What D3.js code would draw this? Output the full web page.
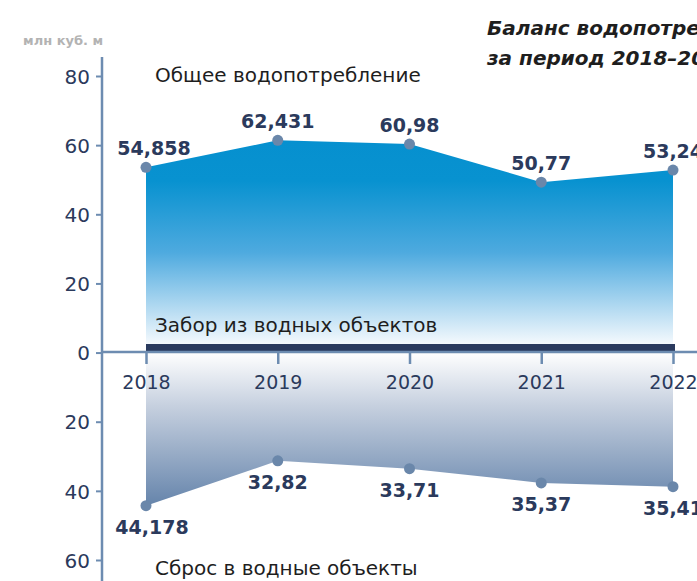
<!DOCTYPE html>
<html>
<head>
<meta charset="utf-8">
<script src="https://cdn.jsdelivr.net/npm/d3@7"></script>
<style>
  html, body { margin: 0; padding: 0; background: #fff; overflow: hidden; }
  text { font-family: "DejaVu Sans", sans-serif; }
</style>
</head>
<body>
<div id="chart"></div>
<script>
// данные
const years = ['2018', '2019', '2020', '2021', '2022'];
// общее водопотребление (положение точек на графике и подписи)
const useValues = [53.6, 61.4, 60.3, 49.3, 52.8];
const useLabels = ['54,858', '62,431', '60,98', '50,77', '53,24'];
// сброс в водные объекты
const dropValues = [44.3, 31.3, 33.6, 37.7, 38.8];
const dropLabels = ['44,178', '32,82', '33,71', '35,37', '35,41'];
const yTicks = [80, 60, 40, 20, 0, -20, -40, -60];

const width = 697, height = 581;
const axisX = 102, zeroY = 352;
const navy = '#2b3a5c', steel = '#6d8cb1', dot = '#6a87aa';

const svg = d3.select('#chart').append('svg')
	.attr('width', width)
	.attr('height', height);

const x = d3.scalePoint().domain(years).range([146, 673]);
const y = d3.scaleLinear().domain([-60, 80]).range([560, 76]);

// градиенты
const defs = svg.append('defs');
const gUp = defs.append('linearGradient')
	.attr('id', 'grad-up')
	.attr('gradientUnits', 'userSpaceOnUse')
	.attr('x1', 0).attr('x2', 0)
	.attr('y1', y(d3.max(useValues))).attr('y2', zeroY - 8);
[[0, '#0690cf'], [0.2, '#0892d0'], [0.55, '#4eaadf'], [1, '#f4f9fd']].forEach(s => {
	gUp.append('stop').attr('offset', s[0]).attr('stop-color', s[1]);
});
const gDown = defs.append('linearGradient')
	.attr('id', 'grad-down')
	.attr('gradientUnits', 'userSpaceOnUse')
	.attr('x1', 0).attr('x2', 0)
	.attr('y1', zeroY).attr('y2', y(-d3.max(dropValues)));
[[0, '#ffffff'], [0.35, '#c6d0df'], [1, '#6584ab']].forEach(s => {
	gDown.append('stop').attr('offset', s[0]).attr('stop-color', s[1]);
});

// области
const areaUp = d3.area()
	.x((d, i) => x(years[i]))
	.y0(zeroY - 8)
	.y1(d => y(d));
svg.append('path')
	.datum(useValues)
	.attr('d', areaUp)
	.attr('fill', 'url(#grad-up)');

const areaDown = d3.area()
	.x((d, i) => x(years[i]))
	.y0(zeroY + 1)
	.y1(d => y(-d));
svg.append('path')
	.datum(dropValues)
	.attr('d', areaDown)
	.attr('fill', 'url(#grad-down)');

// забор из водных объектов — полоса
svg.append('rect')
	.attr('x', x(years[0]))
	.attr('y', zeroY - 8)
	.attr('width', x(years[years.length - 1]) - x(years[0]) + 2)
	.attr('height', 7)
	.attr('fill', '#2a3a5e');

// ось Y
const yAxis = svg.append('g')
	.attr('transform', `translate(${axisX},0)`)
	.call(d3.axisLeft(y).tickValues(yTicks).tickSize(6).tickPadding(6)
		.tickFormat(d => Math.abs(d)));
yAxis.select('.domain').remove();
yAxis.selectAll('.tick line').attr('stroke', steel).attr('stroke-width', 2);
yAxis.selectAll('.tick text')
	.attr('fill', navy)
	.style('font-size', '20px')
	.attr('dy', '0.36em');
svg.append('line')
	.attr('x1', axisX).attr('x2', axisX)
	.attr('y1', 57).attr('y2', height)
	.attr('stroke', steel).attr('stroke-width', 2.5);

// ось X
const xAxis = svg.append('g')
	.attr('transform', `translate(0,${zeroY})`)
	.call(d3.axisBottom(x).tickSize(12).tickPadding(12));
xAxis.select('.domain').remove();
xAxis.selectAll('.tick line').attr('stroke', steel).attr('stroke-width', 2.5);
xAxis.selectAll('.tick text')
	.attr('fill', navy)
	.style('font-size', '19px');
svg.append('line')
	.attr('x1', axisX).attr('x2', width)
	.attr('y1', zeroY).attr('y2', zeroY)
	.attr('stroke', steel).attr('stroke-width', 2.5);

// точки и подписи
svg.selectAll('.dot-up')
	.data(useValues)
	.enter().append('circle')
	.attr('class', 'dot-up')
	.attr('cx', (d, i) => x(years[i]))
	.attr('cy', d => y(d))
	.attr('r', 5.5)
	.attr('fill', dot);
svg.selectAll('.lbl-up')
	.data(useValues)
	.enter().append('text')
	.attr('class', 'lbl-up')
	.attr('x', (d, i) => x(years[i]) + (i === 0 ? 8 : 0))
	.attr('y', d => y(d) - 12)
	.attr('text-anchor', 'middle')
	.attr('fill', navy)
	.style('font-size', '19px')
	.style('font-weight', 'bold')
	.text((d, i) => useLabels[i]);

svg.selectAll('.dot-down')
	.data(dropValues)
	.enter().append('circle')
	.attr('class', 'dot-down')
	.attr('cx', (d, i) => x(years[i]))
	.attr('cy', d => y(-d))
	.attr('r', 5.5)
	.attr('fill', dot);
svg.selectAll('.lbl-down')
	.data(dropValues)
	.enter().append('text')
	.attr('class', 'lbl-down')
	.attr('x', (d, i) => x(years[i]) + (i === 0 ? 6 : 0))
	.attr('y', d => y(-d) + 28)
	.attr('text-anchor', 'middle')
	.attr('fill', navy)
	.style('font-size', '19px')
	.style('font-weight', 'bold')
	.text((d, i) => dropLabels[i]);

// подписи серий
const seriesTitle = (txt, yy) => svg.append('text')
	.attr('x', 155).attr('y', yy)
	.attr('fill', '#1e1e1e')
	.style('font-size', '20px')
	.text(txt);
seriesTitle('Общее водопотребление', 82);
seriesTitle('Забор из водных объектов', 332);
seriesTitle('Сброс в водные объекты', 575);

// единицы
svg.append('text')
	.attr('x', 23).attr('y', 45)
	.attr('fill', '#b3b3b3')
	.style('font-size', '13px')
	.style('font-weight', 'bold')
	.text('млн куб. м');

// заголовок
const title = svg.append('text')
	.attr('x', 487)
	.attr('fill', '#1e1e1e')
	.style('font-size', '20px')
	.style('font-weight', 'bold')
	.style('font-style', 'italic');
title.append('tspan').attr('x', 487).attr('y', 35).text('Баланс водопотребления');
title.append('tspan').attr('x', 487).attr('y', 65).text('за период 2018–2022');
</script>
</body>
</html>
